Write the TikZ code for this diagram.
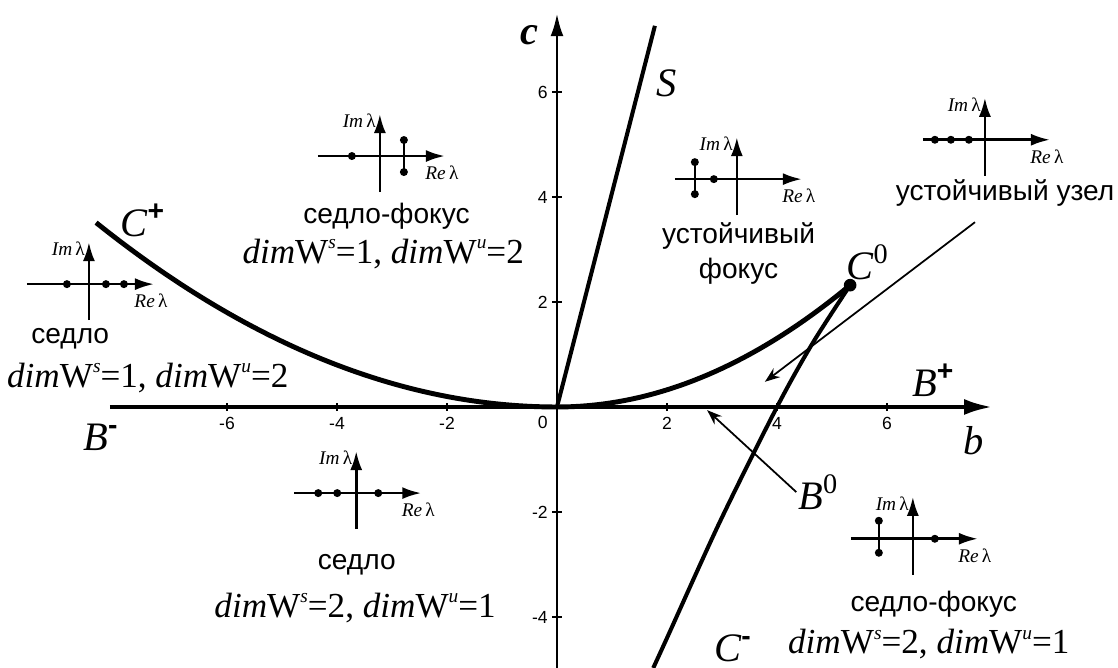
\documentclass[tikz,border=0pt]{standalone}
\usepackage{fontspec}
\setmainfont{Liberation Serif}
\setsansfont{Liberation Sans}
\usetikzlibrary{arrows.meta}

% dimensions of the invariant manifolds
\newcommand{\smallsup}[1]{\raisebox{0.42em}{\fontsize{11}{11}\selectfont\textit{#1}}}
\newcommand{\dimWs}[2]{\textit{dim}W\smallsup{s}=#1, \textit{dim}W\smallsup{u}=#2}
% small eigenvalue plane, drawn in pixel units inside a shifted scope
\newcommand{\lamaxes}[1]{%
  \draw[lamaxis] (-62,0) -- (65,0);
  \draw[lamaxis] (0,-36) -- (0,42);
  \node[lamlabel,anchor=east] (#1im) at (-2,35) {\textit{Im}\,λ};
  \node[lamlabel] (#1re) at (62,-17) {\textit{Re}\,λ};}

\begin{document}
\begin{tikzpicture}[x=1.1cm,y=1.05cm,
    curve/.style={line width=2.8pt},
    bound/.style={line width=2.3pt},
    axis/.style={line width=2.2pt,-{Latex[length=5.6mm,width=3.2mm]}},
    tick/.style={line width=1.4pt},
    ticklabel/.style={font=\sffamily\fontsize{10}{12}\selectfont,inner sep=1pt},
    thinarrow/.style={line width=1pt,-{Stealth[length=3mm,width=2.2mm]}},
    lamaxis/.style={line width=1.5pt,-{Latex[length=3.8mm,width=2.4mm]}},
    lamlabel/.style={font=\fontsize{11}{12}\selectfont,inner sep=1pt},
    eig/.style={radius=4},
    regime/.style={font=\sffamily\fontsize{16}{20}\selectfont,align=center,inner sep=1pt},
    dims/.style={font=\fontsize{20}{24}\selectfont,inner sep=1pt},
    biglabel/.style={font=\itshape\fontsize{23}{26}\selectfont,inner sep=1pt}]
    \useasboundingbox (-10.127,-4.971) rectangle (10.2,7.752);

    % axes b and c
    \coordinate (O) at (0,0);
    \coordinate (bmin) at (-8.13,0);
    \coordinate (bmax) at (7.91,0);
    \coordinate (cmin) at (0,-4.971);
    \coordinate (cmax) at (0,7.5);
    \draw[axis] (bmin) -- (bmax);
    \draw[axis,line width=1.7pt,-{Latex[length=4.6mm,width=2.6mm]}] (cmin) -- (cmax);
    \foreach \t in {-6,-4,-2,2,4,6} {
        \draw[tick] (\t,-0.08) -- (\t,0.08);
        \node[ticklabel] (bt\t) at (\t,-0.32) {\t};
    }
    \foreach \t in {-4,-2,2,4,6} {
        \draw[tick] (-0.09,\t) -- (0.09,\t);
        \node[ticklabel,anchor=east] (ct\t) at (-0.13,\t) {\t};
    }
    \node[ticklabel,anchor=east] (zero) at (-0.13,-0.3) {0};
    \node[font=\bfseries\itshape\fontsize{23}{26}\selectfont] (clab) at (-0.5,7.09) {c};
    \node[biglabel] (blab) at (7.58,-0.65) {b};

    % bifurcation curves
    \draw[curve] plot[domain=-8.38:0,samples=60] (\x,{0.05*\x*\x});
    \draw[curve] plot[domain=0:5.33,samples=40] (\x,{0.0817*\x*\x});
    \coordinate (C0) at (5.33,2.32);
    \coordinate (Stop) at (1.78,7.26);
    \draw[bound] (O) -- (Stop);
    \draw[bound] plot[smooth] coordinates
        {(5.33,2.32) (4.65,1.22) (4.0,0) (2.96,-2.19) (2.0,-4.4) (1.75,-4.971)};
    \fill (C0) circle[radius=3.6pt];

    \node[biglabel] (Slab) at (2.0,6.17) {S};
    \node[biglabel] (Cplus) at (-7.53,3.56) {C\textsuperscript{\upshape\sffamily\bfseries +}};
    \node[biglabel] (Bminus) at (-8.29,-0.57) {B\textsuperscript{\upshape\sffamily\bfseries -}};
    \node[biglabel] (Bplus) at (6.84,0.51) {B\textsuperscript{\upshape\sffamily\bfseries +}};
    \node[biglabel] (Cminus) at (3.2,-4.59) {C\textsuperscript{\upshape\sffamily\bfseries -}};
    \node[biglabel] (Czero) at (5.65,2.76) {C\textsuperscript{\upshape 0}};
    \node[biglabel] (Bzero) at (4.75,-1.62) {B\textsuperscript{\upshape 0}};

    % thin pointers
    \coordinate (Ttop) at (7.6,3.52);
    \coordinate (Ttip) at (3.78,0.48);
    \coordinate (B0) at (2.73,-0.06);
    \draw[thinarrow] (Ttop) -- (Ttip);
    \draw[thinarrow] (Bzero.west) -- (B0);

    % regions: eigenvalue planes and names
    \begin{scope}[shift={(-3.22,4.78)},x=0.02cm,y=0.02cm]
        \lamaxes{sf}
        \fill (-28,0) circle[eig];
        \draw[line width=1.5pt] (24,16) -- (24,-16);
        \fill (24,16) circle[eig] (24,-16) circle[eig];
    \end{scope}
    \node[regime] (sfname) at (-3.1,3.64) {седло-фокус};
    \node[dims] (sfdims) at (-3.16,2.91) {\dimWs{1}{2}};

    \begin{scope}[shift={(3.27,4.34)},x=0.02cm,y=0.02cm]
        \lamaxes{st}
        \draw[line width=1.5pt] (-42,17) -- (-42,-15);
        \fill (-42,17) circle[eig] (-42,-15) circle[eig];
        \fill (-23,0) circle[eig];
    \end{scope}
    \node[regime] (stname) at (3.3,2.93) {устойчивый\\фокус};

    \begin{scope}[shift={(7.78,5.09)},x=0.02cm,y=0.02cm]
        \lamaxes{nd}
        \fill (-50,0) circle[eig] (-34,0) circle[eig] (-16,0) circle[eig];
    \end{scope}
    \node[regime,anchor=east] (ndname) at (10.17,4.08) {устойчивый узел};

    \begin{scope}[shift={(-8.51,2.34)},x=0.02cm,y=0.02cm]
        \lamaxes{sa}
        \fill (-22,0) circle[eig] (17,0) circle[eig] (35,0) circle[eig];
    \end{scope}
    \node[regime] (saname) at (-8.85,1.3) {седло};
    \node[dims] (sadims) at (-7.44,0.55) {\dimWs{1}{2}};

    \begin{scope}[shift={(-3.65,-1.64)},x=0.02cm,y=0.02cm]
        \lamaxes{sb}
        \fill (-38,0) circle[eig] (-19,0) circle[eig] (22,0) circle[eig];
    \end{scope}
    \node[regime] (sbname) at (-3.64,-3.0) {седло};
    \node[dims] (sbdims) at (-3.67,-3.83) {\dimWs{2}{1}};

    \begin{scope}[shift={(6.47,-2.51)},x=0.02cm,y=0.02cm]
        \lamaxes{fb}
        \draw[line width=1.5pt] (-34,18) -- (-34,-14);
        \fill (-34,18) circle[eig] (-34,-14) circle[eig];
        \fill (22,0) circle[eig];
    \end{scope}
    \node[regime] (fbname) at (6.85,-3.76) {седло-фокус};
    \node[dims] (fbdims) at (6.76,-4.52) {\dimWs{2}{1}};
\end{tikzpicture}
\end{document}
